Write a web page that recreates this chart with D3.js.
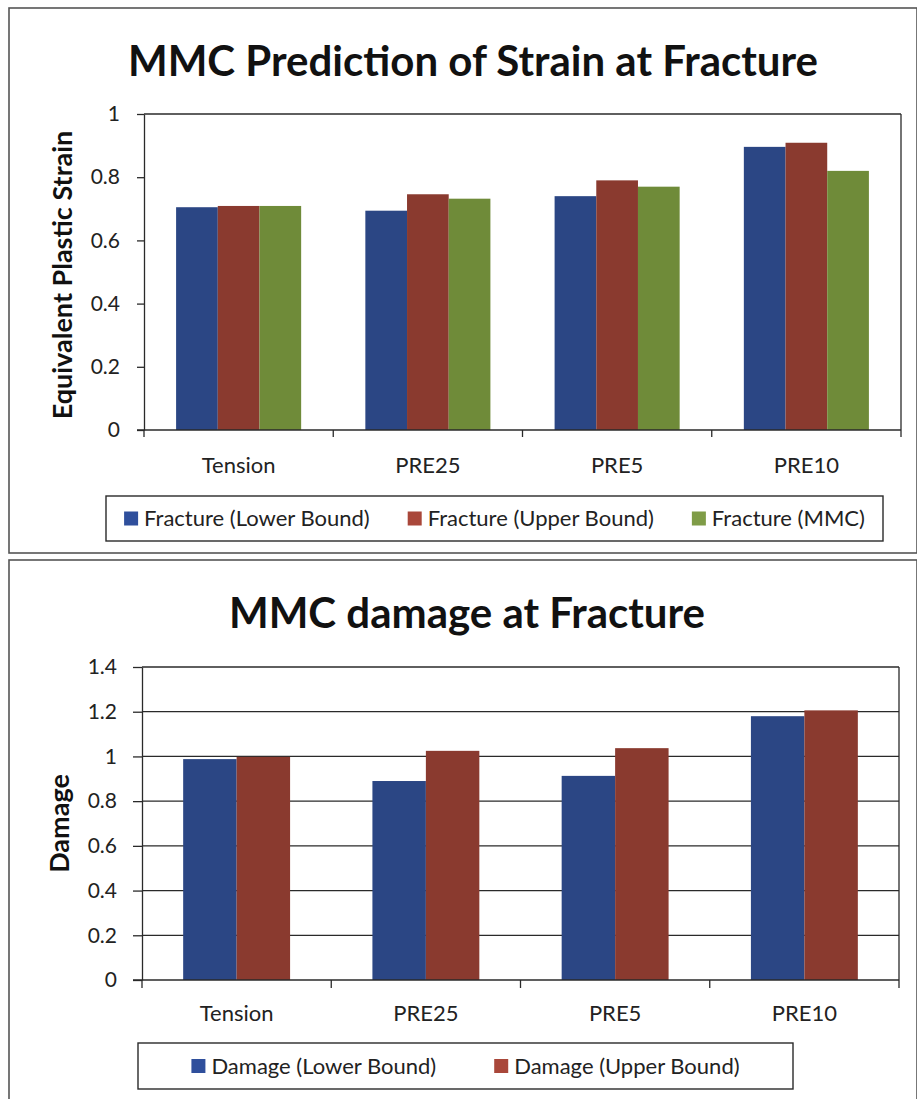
<!DOCTYPE html>
<html>
<head>
<meta charset="utf-8">
<script src="https://cdn.jsdelivr.net/npm/d3@7"></script>
<style>
  html, body { margin: 0; padding: 0; background: #fff; }
  svg { display: block; }
  text { font-family: Lato, "Open Sans", sans-serif; fill: #222; }
</style>
</head>
<body>
<svg id="chart" width="917" height="1099"></svg>
<script>
// Test conditions shared by both charts
const categories = ["Tension", "PRE25", "PRE5", "PRE10"];

// Strain at fracture
const strainSeries = ["Fracture (Lower Bound)", "Fracture (Upper Bound)", "Fracture (MMC)"];
const strainLower = [0.705, 0.694, 0.740, 0.896];
const strainUpper = [0.709, 0.746, 0.790, 0.909];
const strainMMC   = [0.709, 0.732, 0.770, 0.820];
const strainTicks = [0, 0.2, 0.4, 0.6, 0.8, 1];
const strainTickLabels = ["0", "0.2", "0.4", "0.6", "0.8", "1"];

// Damage at fracture
const damageSeries = ["Damage (Lower Bound)", "Damage (Upper Bound)"];
const damageLower = [0.988, 0.890, 0.913, 1.180];
const damageUpper = [0.998, 1.025, 1.037, 1.206];
const damageTicks = [0, 0.2, 0.4, 0.6, 0.8, 1, 1.2, 1.4];
const damageTickLabels = ["0", "0.2", "0.4", "0.6", "0.8", "1", "1.2", "1.4"];

const barColors = ["#2b4684", "#8a3a2f", "#6f8b39"];
const keyColors = ["#2f4f9c", "#a9473a", "#7f9c47"];
const ink = "#2a2a2a";

const svg = d3.select("#chart");

// Panel frames
svg.append("rect").attr("x", 9).attr("y", 8).attr("width", 908).attr("height", 545)
  .attr("fill", "none").attr("stroke", "#555").attr("stroke-width", 1.6);
svg.append("rect").attr("x", 9).attr("y", 560).attr("width", 908).attr("height", 560)
  .attr("fill", "none").attr("stroke", "#555").attr("stroke-width", 1.6);

function drawChart(cfg) {
  const g = svg.append("g");
  const { left, right, top, bottom } = cfg.plot;

  const x = d3.scaleBand().domain(categories).range([left, right]).padding(0);
  const sub = d3.scaleBand().domain(cfg.series).range([0, x.bandwidth()])
    .paddingInner(0).paddingOuter(0.77);
  const y = d3.scaleLinear().domain([0, cfg.yMax]).range([bottom, top]);

  // Title
  g.append("text")
    .attr("x", cfg.titleX).attr("y", cfg.titleY)
    .attr("text-anchor", "middle")
    .style("font-size", cfg.titleSize + "px").style("font-weight", 700)
    .style("fill", "#111")
    .text(cfg.title);

  // Horizontal gridlines
  if (cfg.grid) {
    g.append("g").selectAll("line").data(cfg.ticks.filter(v => v > 0)).join("line")
      .attr("x1", left).attr("x2", right)
      .attr("y1", d => y(d)).attr("y2", d => y(d))
      .attr("stroke", ink).attr("stroke-width", 1.3);
  } else {
    // Plot area outline (top edge)
    g.append("line").attr("x1", left).attr("x2", right).attr("y1", top).attr("y2", top)
      .attr("stroke", ink).attr("stroke-width", 1.3);
  }
  g.append("line").attr("x1", right).attr("x2", right).attr("y1", top).attr("y2", bottom)
    .attr("stroke", ink).attr("stroke-width", 1.3);

  // Bars
  const rows = categories.map((c, i) => ({
    cat: c,
    vals: cfg.series.map((s, j) => ({ s, j, v: cfg.values[j][i] }))
  }));
  g.append("g").selectAll("g").data(rows).join("g")
    .attr("transform", d => `translate(${x(d.cat)},0)`)
    .selectAll("rect").data(d => d.vals).join("rect")
    .attr("x", d => sub(d.s))
    .attr("width", sub.bandwidth())
    .attr("y", d => y(d.v))
    .attr("height", d => y(0) - y(d.v))
    .attr("fill", d => barColors[d.j]);

  // Y axis
  const yAxis = d3.axisLeft(y).tickValues(cfg.ticks)
    .tickFormat((d, i) => cfg.tickLabels[i])
    .tickSize(cfg.yTickLen).tickPadding(cfg.yTickPad).tickSizeOuter(0);
  const ya = g.append("g").attr("transform", `translate(${left},0)`).call(yAxis);
  ya.select(".domain").attr("stroke", ink).attr("stroke-width", 1.3);
  ya.selectAll(".tick line").attr("stroke", ink).attr("stroke-width", 1.3);
  ya.selectAll(".tick text").style("font-size", "21px").style("font-family", "Lato, sans-serif")
    .attr("fill", "#2a2a2a");

  // X axis with ticks at category boundaries
  const xa = g.append("g").attr("transform", `translate(0,${bottom})`);
  xa.append("line").attr("x1", left - cfg.yTickLen).attr("x2", right)
    .attr("stroke", ink).attr("stroke-width", 1.3);
  const bounds = categories.map(c => x(c)).concat([right]);
  xa.selectAll("line.tk").data(bounds).join("line").attr("class", "tk")
    .attr("x1", d => d).attr("x2", d => d).attr("y1", 0).attr("y2", cfg.xTickLen)
    .attr("stroke", ink).attr("stroke-width", 1.3);
  xa.selectAll("text").data(categories).join("text")
    .attr("x", d => x(d) + x.bandwidth() / 2)
    .attr("y", cfg.xLabelDy)
    .attr("text-anchor", "middle")
    .style("font-size", "22px")
    .text(d => d);

  // Y axis title
  g.append("text")
    .attr("transform", `translate(${cfg.yTitleX},${(top + bottom) / 2 + cfg.yTitleShift}) rotate(-90)`)
    .attr("text-anchor", "middle")
    .attr("dy", "0.35em")
    .style("font-size", cfg.yTitleSize + "px").style("font-weight", 700)
    .style("fill", "#111")
    .text(cfg.yTitle);

  // Legend
  const lg = cfg.legend;
  g.append("rect").attr("x", lg.x).attr("y", lg.y).attr("width", lg.w).attr("height", lg.h)
    .attr("fill", "#fff").attr("stroke", ink).attr("stroke-width", 1.4);
  const items = g.append("g").selectAll("g").data(cfg.series).join("g");
  items.append("rect").attr("width", 14).attr("height", 14).attr("y", -7)
    .attr("fill", (d, i) => keyColors[i]);
  items.append("text").attr("x", 20).attr("dy", "0.36em")
    .style("font-size", lg.fontSize + "px").text(d => d);
  const widths = items.nodes().map(n => 20 + d3.select(n).select("text").node().getComputedTextLength());
  const total = d3.sum(widths) + lg.gap * (widths.length - 1);
  let cx = lg.x + (lg.w - total) / 2;
  items.each(function (d, i) {
    d3.select(this).attr("transform", `translate(${cx},${lg.y + lg.h / 2})`);
    cx += widths[i] + lg.gap;
  });
}

drawChart({
  title: "MMC Prediction of Strain at Fracture",
  titleX: 473, titleY: 76, titleSize: 42,
  series: strainSeries,
  values: [strainLower, strainUpper, strainMMC],
  yMax: 1, ticks: strainTicks, tickLabels: strainTickLabels,
  grid: false,
  plot: { left: 144, right: 901, top: 114, bottom: 430 },
  yTickLen: 7, yTickPad: 17, xTickLen: 7, xLabelDy: 43,
  yTitle: "Equivalent Plastic Strain", yTitleX: 63, yTitleShift: 3, yTitleSize: 27,
  legend: { x: 106, y: 496, w: 777, h: 45, fontSize: 22, gap: 38 }
});

drawChart({
  title: "MMC damage at Fracture",
  titleX: 467, titleY: 628, titleSize: 42,
  series: damageSeries,
  values: [damageLower, damageUpper],
  yMax: 1.4, ticks: damageTicks, tickLabels: damageTickLabels,
  grid: true,
  plot: { left: 142, right: 899, top: 667, bottom: 980 },
  yTickLen: 9, yTickPad: 16, xTickLen: 8, xLabelDy: 41,
  yTitle: "Damage", yTitleX: 60, yTitleShift: 0, yTitleSize: 27,
  legend: { x: 138, y: 1043, w: 655, h: 46, fontSize: 22, gap: 58 }
});
</script>
</body>
</html>
